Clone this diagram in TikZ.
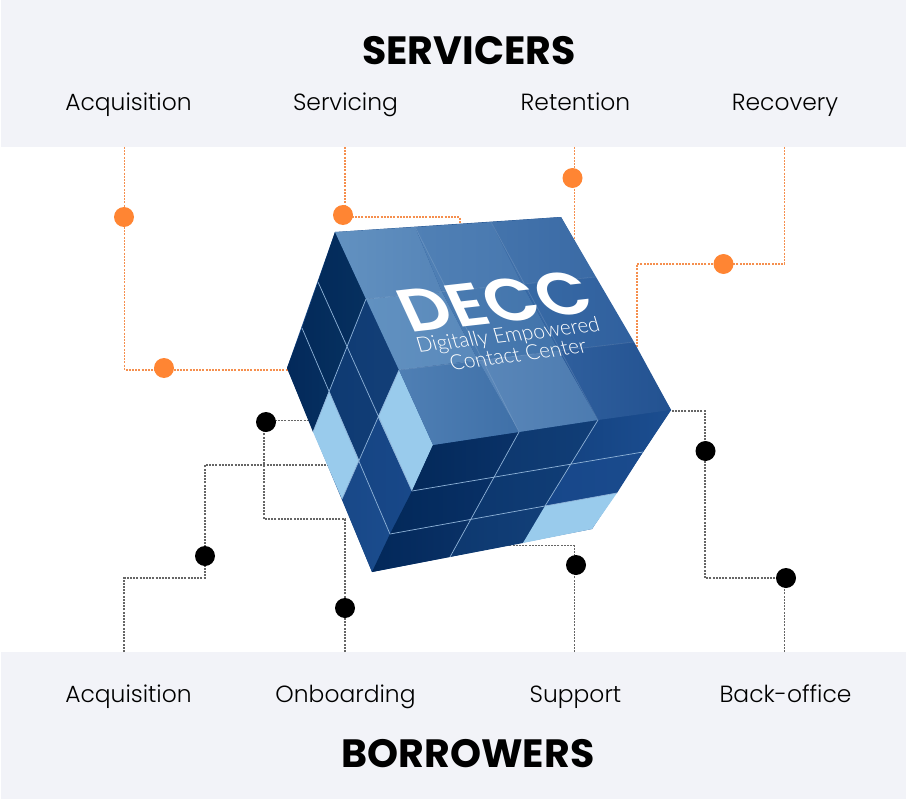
\documentclass[tikz,border=0pt]{standalone}
\usepackage{fontspec}
\setmainfont{Poppins}[UprightFont=* Light,BoldFont=* Bold]
\newfontfamily\cubefont{Poppins}[UprightFont=* SemiBold]
\newfontfamily\cubesmall{Lato Light}
\definecolor{band}{HTML}{F2F3F8}
\definecolor{orangedot}{HTML}{FF8533}
\definecolor{orangeline}{HTML}{F58F4E}
\definecolor{lightcell}{HTML}{99CBEC}
\definecolor{gridc}{HTML}{8FB3D8}
\definecolor{under}{HTML}{1A4A88}
\tikzset{
  bandbox/.style={fill=band,draw=none},
  odot/.style={circle,fill=orangedot,draw=none,minimum size=20pt,inner sep=0pt},
  kdot/.style={circle,fill=black,draw=none,minimum size=20pt,inner sep=0pt},
  oline/.style={draw=orangeline,line width=1.2pt,dash pattern=on 2pt off 1.2pt},
  kline/.style={draw=black!60,line width=1.2pt,dash pattern=on 2pt off 1.2pt},
  grid line/.style={draw=gridc,line width=.7pt},
  faint line/.style={draw=white,draw opacity=.13,line width=.7pt},
  label/.style={font=\fontsize{23.4}{28}\selectfont,text=black,inner sep=0pt,anchor=base},
  heading/.style={font=\fontsize{39.5}{44}\selectfont\bfseries,text=black,inner sep=0pt,anchor=base},
  cubetext/.style={text=white,inner sep=0pt,anchor=base,transform shape},
}
\newcommand{\cellc}[6]{{\definecolor{ca}{HTML}{#5}\definecolor{cb}{HTML}{#6}%
  \shade[left color=ca,right color=cb] (#1)--(#2)--(#3)--(#4)--cycle;}}
\begin{document}
\begin{tikzpicture}[x=1pt,y=-1pt]
\useasboundingbox (0,0) rectangle (906,800);
% bands
\path[bandbox] (1,0) rectangle (906,147);
\path[bandbox] (1,652) rectangle (906,799);
\node[heading] (hs) at (469,65) {SERVICERS};
\node[heading] (hb) at (468,767) {BORROWERS};
\node[label] (l1) at (128.5,110.3) {Acquisition};
\node[label] (l2) at (345.5,110.3) {Servicing};
\node[label] (l3) at (575.5,110.3) {Retention};
\node[label] (l4) at (785,110.3) {Recovery};
\node[label] (b1) at (128.5,702.3) {Acquisition};
\node[label] (b2) at (345.5,702.3) {Onboarding};
\node[label] (b3) at (575.5,702.3) {Support};
\node[label] (b4) at (785.5,702.3) {Back-office};
% connector free ends and bends
\coordinate (sa) at (124.5,147); \coordinate (sa1) at (124.5,370); \coordinate (sa2) at (288,370);
\coordinate (sb) at (345,147); \coordinate (sb1) at (345,217); \coordinate (sb2) at (460,217); \coordinate (sb3) at (460,224);
\coordinate (sc) at (574.5,147); \coordinate (sc1) at (574.5,262);
\coordinate (sd) at (784.5,147); \coordinate (sd1) at (784.5,264); \coordinate (sd2) at (637,264); \coordinate (sd3) at (637,348);
\coordinate (ba) at (124,652); \coordinate (ba1) at (124,578); \coordinate (ba2) at (205,578); \coordinate (ba3) at (205,465); \coordinate (ba4) at (330,465);
\coordinate (bb) at (345,652); \coordinate (bb1) at (345,519); \coordinate (bb2) at (264,519); \coordinate (bb3) at (264,420.5); \coordinate (bb4) at (315,420.5);
\coordinate (bc) at (574.5,652); \coordinate (bc1) at (574.5,545.5); \coordinate (bc2) at (500,545.5);
\coordinate (bd) at (784.5,652); \coordinate (bd1) at (784.5,578); \coordinate (bd2) at (705,578); \coordinate (bd3) at (705,411); \coordinate (bd4) at (668,411);
% connectors
\draw[oline] (sa) -- (sa1) -- (sa2);
\draw[oline] (sb) -- (sb1) -- (sb2) -- (sb3);
\draw[oline] (sc) -- (sc1);
\draw[oline] (sd) -- (sd1) -- (sd2) -- (sd3);
\draw[kline] (ba) -- (ba1) -- (ba2) -- (ba3) -- (ba4);
\draw[kline] (bb) -- (bb1) -- (bb2) -- (bb3) -- (bb4);
\draw[kline] (bc) -- (bc1) -- (bc2);
\draw[kline] (bd) -- (bd1) -- (bd2) -- (bd3) -- (bd4);
% dots on the connectors
\node[odot] (o1) at (124,217) {};
\node[odot] (o2) at (164,368) {};
\node[odot] (o3) at (343,215) {};
\node[odot] (o4) at (572.5,178) {};
\node[odot] (o5) at (723.5,264) {};
\node[kdot] (k1) at (205,556) {};
\node[kdot] (k2) at (266,422) {};
\node[kdot] (k3) at (345,608) {};
\node[kdot] (k4) at (576,565) {};
\node[kdot] (k5) at (705.5,451) {};
\node[kdot] (k6) at (786,578) {};
% cube points: left face
\coordinate (p00) at (335,232); \coordinate (p01) at (366,299); \coordinate (p02) at (399,370); \coordinate (p03) at (433,445);
\coordinate (p10) at (318,282); \coordinate (p11) at (347,345); \coordinate (p12) at (378,417); \coordinate (p13) at (412,491);
\coordinate (p20) at (302,328); \coordinate (p21) at (329,391); \coordinate (p22) at (359,460); \coordinate (p23) at (390,534);
\coordinate (p30) at (287,368); \coordinate (p31) at (313,432); \coordinate (p32) at (342,499); \coordinate (p33) at (372,572);
% front face
\coordinate (f01) at (519,432); \coordinate (f02) at (598,420); \coordinate (f03) at (671,410);
\coordinate (f11) at (495,477); \coordinate (f12) at (571,465); \coordinate (f13) at (643,452);
\coordinate (f21) at (471,520); \coordinate (f22) at (545,506); \coordinate (f23) at (617,493);
\coordinate (f31) at (450,557); \coordinate (f32) at (523,543); \coordinate (f33) at (592,529);
% top face
\coordinate (t01) at (415,227); \coordinate (t02) at (491,222); \coordinate (t03) at (561,217);
\coordinate (t11) at (442,292); \coordinate (t12) at (522,284); \coordinate (t13) at (596,277);
\coordinate (t21) at (478,360); \coordinate (t22) at (559,351); \coordinate (t23) at (634,342);
% underlay
\fill[under] (p00)--(t03)--(f03)--(f33)--(p33)--(p30)--cycle;
% left face cells
\cellc{p00}{p01}{p11}{p10}{032A5A}{06305F}
\cellc{p01}{p02}{p12}{p11}{103C74}{133F78}
\cellc{p10}{p11}{p21}{p20}{032A5A}{06305F}
\cellc{p11}{p12}{p22}{p21}{0E3A72}{113D76}
\cellc{p12}{p13}{p23}{p22}{164584}{184889}
\cellc{p20}{p21}{p31}{p30}{03295A}{062F60}
\cellc{p22}{p23}{p33}{p32}{184888}{1B4C8D}
\fill[lightcell] (p02)--(p03)--(p13)--(p12)--cycle;
\fill[lightcell] (p21)--(p22)--(p32)--(p31)--cycle;
\draw[grid line] (p10)--(p13) (p20)--(p23) (p01)--(p31) (p02)--(p32);
% front face cells
\cellc{p03}{f01}{f11}{p13}{03295A}{0A3268}
\cellc{f01}{f02}{f12}{f11}{0D386F}{113E77}
\cellc{f02}{f03}{f13}{f12}{144382}{1C4E90}
\cellc{p13}{f11}{f21}{p23}{03295A}{083066}
\cellc{f11}{f12}{f22}{f21}{0C376E}{103D76}
\cellc{f12}{f13}{f23}{f22}{17478A}{1A4B8D}
\cellc{p23}{f21}{f31}{p33}{02285A}{0A3166}
\cellc{f21}{f22}{f32}{f31}{0D386F}{123F78}
\fill[lightcell] (f22)--(f23)--(f33)--(f32)--cycle;
\draw[grid line] (f01)--(f31) (f02)--(f22) (p13)--(f13) (p23)--(f23);
% top face cells
\cellc{p00}{t01}{t11}{p01}{6291C0}{5685B8}
\cellc{t01}{t02}{t12}{t11}{5080B5}{4878AF}
\cellc{t02}{t03}{t13}{t12}{4474AC}{3A6AA5}
\cellc{p01}{t11}{t21}{p02}{6191C0}{5A89BB}
\cellc{t11}{t12}{t22}{t21}{4A7BB1}{4274AB}
\cellc{t12}{t13}{t23}{t22}{386AA5}{30609E}
\cellc{p02}{t21}{f01}{p03}{4F7FB4}{3F70A8}
\cellc{t21}{t22}{f02}{f01}{5A87B9}{4C7BB0}
\cellc{t22}{t23}{f03}{f02}{2F5F9D}{235291}
\draw[faint line] (p01)--(t13) (p02)--(t23) (t01)--(f01) (t02)--(f02);
% cube wording
\begin{scope}[shift={(504.5,322)},cm={1.07,.12,-.43,.93,(0,0)}]
  \node[cubetext,font=\fontsize{63}{66}\selectfont\cubefont] (decc) at (0,0) {DECC};
\end{scope}
\begin{scope}[shift={(510,342)},cm={1,.118,-.3,1,(0,0)}]
  \node[cubetext,font=\fontsize{20.5}{24}\selectfont\cubesmall] (dec1) at (0,0) {Digitally Empowered};
\end{scope}
\begin{scope}[shift={(520,361.5)},cm={1,.13,-.3,1,(0,0)}]
  \node[cubetext,font=\fontsize{20.5}{24}\selectfont\cubesmall] (dec2) at (0,0) {Contact Center};
\end{scope}
\end{tikzpicture}
\end{document}
